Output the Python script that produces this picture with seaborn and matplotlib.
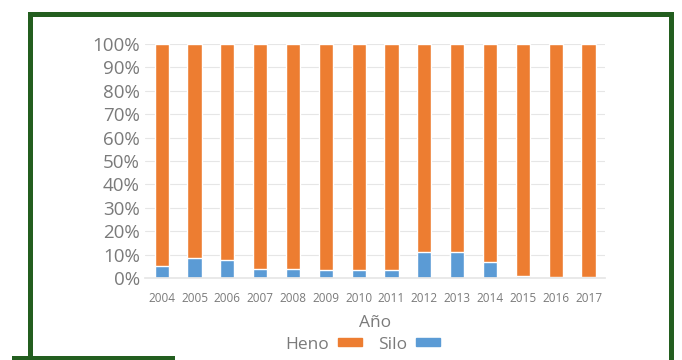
import matplotlib
matplotlib.use("Agg")
import matplotlib.pyplot as plt
import matplotlib.lines as mlines
import seaborn as sns
import pandas as pd

years = ["2004", "2005", "2006", "2007", "2008", "2009", "2010",
         "2011", "2012", "2013", "2014", "2015", "2016", "2017"]
silo = [5, 8.5, 7.5, 4, 4, 3.5, 3.5, 3.5, 11, 11, 7, 1, 0.5, 0.5]
heno = [100 - s for s in silo]
y_ticks = [0, 10, 20, 30, 40, 50, 60, 70, 80, 90, 100]

ORANGE = "#ED7D31"
BLUE = "#5B9BD5"
TEXT = "#7A7A7A"
FRAME = "#235E1F"

sns.set_theme(style="white")
plt.rcParams["font.family"] = ["Open Sans", "DejaVu Sans"]

df = pd.DataFrame({"Año": years, "Silo": silo, "Total": [s + h for s, h in zip(silo, heno)]})

fig = plt.figure(figsize=(6.82, 3.6), dpi=100)
ax = fig.add_axes([0.213, 0.228, 0.674, 0.650])

# stacked bars: total (Heno on top) drawn first, Silo over it from the baseline
sns.barplot(data=df, x="Año", y="Total", color=ORANGE, width=0.43,
            saturation=1, ax=ax)
sns.barplot(data=df, x="Año", y="Silo", color=BLUE, width=0.43,
            saturation=1, ax=ax)

ax.set_ylim(0, 100)
ax.set_xlim(-0.5, len(years) - 0.5)
ax.set_yticks(y_ticks)
ax.set_yticklabels([f"{v}%" for v in y_ticks], fontsize=13.5, color=TEXT)
ax.tick_params(axis="x", labelsize=8.5, colors=TEXT, length=0, pad=10)
ax.tick_params(axis="y", length=0, pad=4)
ax.yaxis.grid(True, color="#E6E6E6", linewidth=0.8)
ax.set_axisbelow(True)
for side in ["top", "right", "left"]:
    ax.spines[side].set_visible(False)
ax.spines["bottom"].set_color("#E6E6E6")
ax.set_ylabel("")
ax.set_xlabel("Año", fontsize=12.5, color=TEXT, labelpad=7)

handles = [
    plt.Rectangle((0, 0), 1, 1, color=ORANGE),
    plt.Rectangle((0, 0), 1, 1, color=BLUE),
]
fig.legend(handles, ["Heno", "Silo"], loc="center", bbox_to_anchor=(0.532, 0.043),
           ncol=2, frameon=False, markerfirst=False, fontsize=12.5,
           labelcolor=TEXT, handlelength=1.4, handleheight=0.35,
           columnspacing=0.9, handletextpad=0.5)

# green border around the chart
W, H = 682, 360
lw = 3.6
def seg(x0, y0, x1, y1):
    fig.add_artist(mlines.Line2D([x0 / W, x1 / W], [1 - y0 / H, 1 - y1 / H],
                                 color=FRAME, linewidth=lw,
                                 solid_capstyle="projecting",
                                 transform=fig.transFigure))

seg(30, 14, 671, 14)
seg(30, 14, 30, 358)
seg(671, 14, 671, 362)
seg(14, 358, 172, 358)

fig.savefig("out.png", dpi=100, facecolor="white")
